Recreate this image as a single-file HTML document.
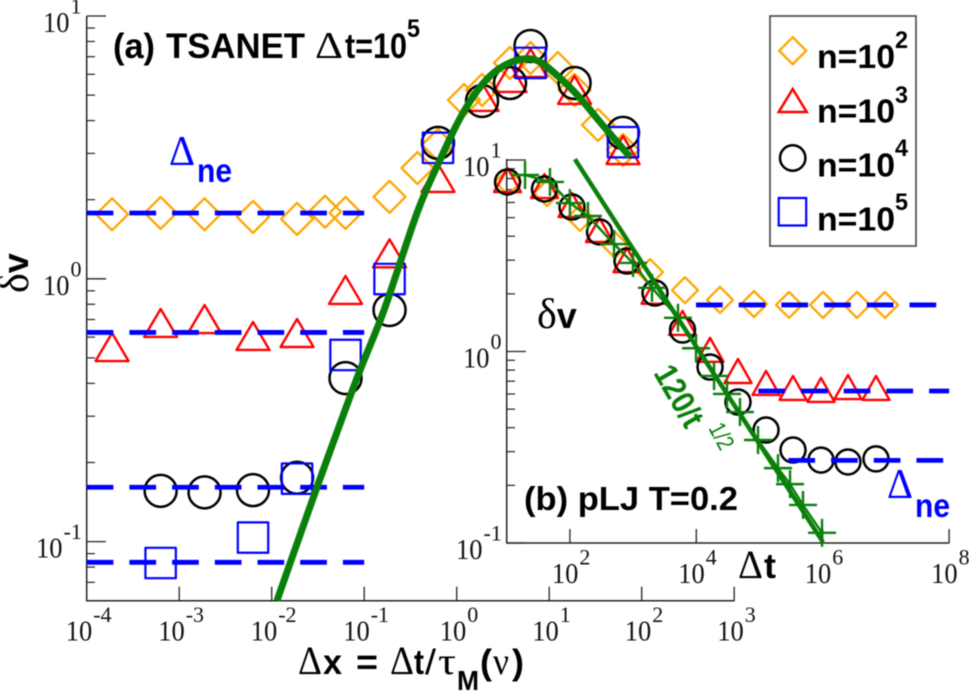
<!DOCTYPE html>
<html>
<head>
<meta charset="utf-8">
<title>delta v chart</title>
<style>
html,body{margin:0;padding:0;background:#fff;}
svg{display:block;filter:blur(0.4px);}
.sans{font-family:"Liberation Sans",sans-serif;}
.bold{font-family:"Liberation Sans",sans-serif;font-weight:bold;}
.serif{font-family:"Liberation Serif",serif;}
</style>
</head>
<body>
<svg id="chart" xmlns="http://www.w3.org/2000/svg" width="969" height="691" viewBox="0 0 969 691">
  <rect x="0" y="0" width="969" height="691" fill="#fff"/>
  <g id="mainAxes"></g>
  <g id="mainMarks"></g>
  <g id="insetAxes"></g>
  <g id="insetMarks"></g>

  <g fill="#000">
    <text class="bold" x="113" y="58" font-size="35" textLength="42" lengthAdjust="spacingAndGlyphs">(a)</text>
    <text class="bold" x="166" y="58" font-size="35" textLength="139" lengthAdjust="spacingAndGlyphs">TSANET</text>
    <text class="serif" x="315" y="58" font-size="38" textLength="28" lengthAdjust="spacingAndGlyphs">Δ</text>
    <text class="bold" x="345" y="58" font-size="35" textLength="62" lengthAdjust="spacingAndGlyphs">t=10</text>
    <text class="bold" x="407" y="37" font-size="25" textLength="13" lengthAdjust="spacingAndGlyphs">5</text>
  </g>
  <g fill="#0000ff">
    <text class="serif" x="169" y="165" font-size="42" textLength="26" lengthAdjust="spacingAndGlyphs">Δ</text>
    <text class="bold" x="197" y="182" font-size="33" textLength="35" lengthAdjust="spacingAndGlyphs">ne</text>
  </g>
  <text transform="translate(28,293) rotate(-90)" fill="#000"><tspan class="serif" font-size="42">δ</tspan><tspan class="bold" font-size="36">v</tspan></text>
  <g fill="#000">
    <text class="serif" x="298" y="674" font-size="40" textLength="24" lengthAdjust="spacingAndGlyphs">Δ</text>
    <text class="bold" x="323" y="674" font-size="35" textLength="19" lengthAdjust="spacingAndGlyphs">x</text>
    <text class="bold" x="356" y="674" font-size="35" textLength="22" lengthAdjust="spacingAndGlyphs">=</text>
    <text class="serif" x="390" y="674" font-size="40" textLength="24" lengthAdjust="spacingAndGlyphs">Δ</text>
    <text class="bold" x="414" y="674" font-size="35" textLength="10" lengthAdjust="spacingAndGlyphs">t</text>
    <text class="sans" x="425" y="674" font-size="35" textLength="11" lengthAdjust="spacingAndGlyphs">/</text>
    <text class="serif" x="438" y="674" font-size="38" textLength="18" lengthAdjust="spacingAndGlyphs">τ</text>
    <text class="bold" x="457" y="690" font-size="28" textLength="22" lengthAdjust="spacingAndGlyphs">M</text>
    <text class="bold" x="480" y="674" font-size="35" textLength="12" lengthAdjust="spacingAndGlyphs">(</text>
    <text class="serif" x="493" y="674" font-size="38" textLength="16" lengthAdjust="spacingAndGlyphs">ν</text>
    <text class="bold" x="512" y="674" font-size="35" textLength="12" lengthAdjust="spacingAndGlyphs">)</text>
  </g>

  <g>
    <rect x="770" y="16" width="146" height="230" fill="#fff" stroke="#444" stroke-width="1.6"/>
    <path d="M792.7 37.2 L806.2 50.7 L792.7 64.2 L779.2 50.7 Z" fill="none" stroke="#ffa500" stroke-width="2.3"/>
    <path d="M792.7 89 L806.7 112 L778.7 112 Z" fill="none" stroke="#ff0000" stroke-width="2.5"/>
    <circle cx="792.7" cy="158" r="12.7" fill="none" stroke="#000" stroke-width="2.5"/>
    <rect x="778.7" y="198" width="27.5" height="27.5" fill="none" stroke="#0000ff" stroke-width="2.2"/>
    <g fill="#000">
      <text class="bold" x="817" y="68" font-size="33" textLength="78" lengthAdjust="spacingAndGlyphs">n=10</text>
      <text class="bold" x="895" y="48" font-size="24" textLength="13" lengthAdjust="spacingAndGlyphs">2</text>
    </g>
    <g fill="#000">
      <text class="bold" x="817" y="122.7" font-size="33" textLength="78" lengthAdjust="spacingAndGlyphs">n=10</text>
      <text class="bold" x="895" y="103" font-size="24" textLength="13" lengthAdjust="spacingAndGlyphs">3</text>
    </g>
    <g fill="#000">
      <text class="bold" x="817" y="176.7" font-size="33" textLength="78" lengthAdjust="spacingAndGlyphs">n=10</text>
      <text class="bold" x="895" y="156" font-size="24" textLength="13" lengthAdjust="spacingAndGlyphs">4</text>
    </g>
    <g fill="#000">
      <text class="bold" x="817" y="230.7" font-size="33" textLength="78" lengthAdjust="spacingAndGlyphs">n=10</text>
      <text class="bold" x="895" y="210" font-size="24" textLength="13" lengthAdjust="spacingAndGlyphs">5</text>
    </g>
  </g>

  <text x="537" y="328" fill="#000"><tspan class="serif" font-size="42">δ</tspan><tspan class="bold" font-size="36">v</tspan></text>
  <g fill="#000">
    <text class="serif" x="738" y="578" font-size="40" textLength="25" lengthAdjust="spacingAndGlyphs">Δ</text>
    <text class="bold" x="764" y="578" font-size="35" textLength="12" lengthAdjust="spacingAndGlyphs">t</text>
  </g>
  <text class="bold" x="524" y="510" font-size="33" fill="#000" textLength="214" lengthAdjust="spacingAndGlyphs">(b) pLJ T=0.2</text>
  <g fill="#0000ff">
    <text class="serif" x="887" y="498" font-size="42" textLength="26" lengthAdjust="spacingAndGlyphs">Δ</text>
    <text class="bold" x="915" y="517" font-size="33" textLength="35" lengthAdjust="spacingAndGlyphs">ne</text>
  </g>
  <g fill="#0a800a">
    <text class="bold" transform="translate(653,373) rotate(60)" font-size="33" textLength="66" lengthAdjust="spacingAndGlyphs">120/t</text>
    <text class="sans" transform="translate(708,428) rotate(62)" font-size="24" textLength="27" lengthAdjust="spacingAndGlyphs">1/2</text>
  </g>
</svg>

<script>
// ---- Panel (a) data ----
const mainDiamondX = [1.88e-4, 6.3e-4, 1.88e-3, 6.28e-3, 1.88e-2, 3.77e-2, 6.28e-2, 0.188, 0.377, 0.628, 1.2, 1.88, 3.77, 6.28, 12.4, 18.8, 33.7, 62.8];
const mainDiamondY = [1.76, 1.78, 1.76, 1.72, 1.69, 1.8, 1.78, 2.05, 2.64, 3.23, 4.79, 5.23, 6.63, 6.92, 6.34, 5.23, 3.85, 3.09];
const mainTriangleX = [1.88e-4, 6.3e-4, 1.88e-3, 6.28e-3, 1.88e-2, 6.28e-2, 0.188, 0.628, 1.88, 3.77, 6.28, 18.8, 62.8];
const mainTriangleY = [0.55, 0.679, 0.703, 0.606, 0.622, 0.907, 1.25, 2.42, 4.92, 5.81, 6.63, 5.23, 3.09];
const mainCircleX = [6.3e-4, 1.88e-3, 6.28e-3, 1.88e-2, 6.28e-2, 0.188, 0.628, 1.88, 3.77, 6.28, 18.8, 62.8];
const mainCircleY = [0.156, 0.154, 0.157, 0.175, 0.419, 0.761, 3.29, 4.75, 5.56, 7.69, 5.56, 3.59];
const mainSquareX = [6.3e-4, 6.28e-3, 1.88e-2, 6.28e-2, 0.188, 0.628, 6.28, 62.8];
const mainSquareY = [0.0829, 0.1036, 0.1736, 0.513, 0.998, 3.15, 6.63, 3.31];
const mainPlateauValues = [1.78, 0.625, 0.161, 0.0834];
const mainPlateauStart = 1e-4;
const mainPlateauEnd = 0.1;
const mainCurveX = [0.0114, 0.0309, 0.0836, 0.164, 0.372, 0.659, 1.09, 1.79, 2.94, 5.21, 7.96, 13.1, 21.5, 35.4, 74.8];
const mainCurveY = [0.0597, 0.161, 0.419, 0.761, 1.78, 2.83, 4.09, 5.37, 6.34, 6.86, 6.68, 5.81, 4.88, 3.95, 2.91];
const mainXTickExponents = [-4, -3, -2, -1, 0, 1, 2, 3];
const mainYTickExponents = [1, 0, -1];
const mainYMinorValues = [9, 8, 7, 6, 5, 4, 3, 2, 0.9, 0.8, 0.7, 0.6, 0.5, 0.4, 0.3, 0.2, 0.09, 0.08, 0.07];

// ---- Panel (b) data ----
const insetDiamondX = [10.5, 43.4, 145, 517, 1850, 6620, 23700, 81800, 293000, 1.01e6, 3.49e6, 9.68e6];
const insetDiamondY = [7.68, 6.72, 4.98, 3.6, 2.6, 2.09, 1.86, 1.77, 1.75, 1.75, 1.75, 1.75];
const insetRunX = [10.3, 39.6, 108, 294, 801, 2220, 6050, 16500, 45700, 127000, 339000, 940000, 2.51e6, 6.97e6];
const insetTriangleY = [7.86, 7.31, 5.82, 4.31, 3.0, 2.05, 1.41, 1.02, 0.791, 0.685, 0.645, 0.63, 0.652, 0.645];
const insetCircleY = [7.68, 7.06, 5.68, 4.21, 2.97, 2.02, 1.295, 0.83, 0.545, 0.389, 0.306, 0.271, 0.265, 0.275];
const insetPlusX = [19.5, 48.4, 100, 193, 499, 996, 1990, 5130, 9890, 19100, 30600, 49100, 94700, 196000, 304000, 488000, 975000];
const insetPlusY = [8.35, 7.68, 5.96, 5.1, 3.64, 2.9, 2.15, 1.5, 1.04, 0.745, 0.6, 0.483, 0.345, 0.246, 0.203, 0.158, 0.113];
const insetPlateauValues = [1.75, 0.622, 0.27];
const insetPlateauStarts = [9890, 95700, 286000];
const insetPlateauEnds = [6.37e7, 1e8, 8.39e7];
const insetFitX = [120, 1.01e6];
const insetFitY = [10.1, 0.101];
const insetXTickExponents = [2, 4, 6, 8];
const insetYTickExponents = [1, 0, -1];
const insetYMinorValues = [9, 8, 7, 6, 5, 4, 3, 2, 0.9, 0.8, 0.7, 0.6, 0.5, 0.4, 0.3, 0.2];

// ---- Axis functions ----
const mainX = v => 86.7 + (Math.log10(v) + 4) * 92.5;
const mainY = v => 16 + (1 - Math.log10(v)) * 262.8;
const insetX = v => 506.7 + (Math.log10(v) - 1) * 63.2;
const insetY = v => 160 + (1 - Math.log10(v)) * 191.5;

const NS = 'http://www.w3.org/2000/svg';
const ORANGE = '#ffa500', RED = '#ff0000', BLACK = '#000000', BLUE = '#0000ff', GREEN = '#0a800a', AXIS = '#222222';

function make(parent, tag, props) {
  const el = document.createElementNS(NS, tag);
  for (const k in props) el.setAttribute(k, props[k]);
  parent.appendChild(el);
  return el;
}
function drawLine(parent, x1, y1, x2, y2, stroke, width, name) {
  const el = make(parent, 'line', {x1: x1, y1: y1, x2: x2, y2: y2, stroke: stroke, 'stroke-width': width});
  
  
  return el;
}
function drawPath(parent, d, stroke, width, name) {
  const el = make(parent, 'path', {d: d, fill: 'none', stroke: stroke, 'stroke-width': width, 'stroke-linejoin': 'round'});
  
  
  return el;
}
function diamond(g, x, y, h, name) {
  return drawPath(g, 'M' + x + ' ' + (y - h) + 'L' + (x + h) + ' ' + y + 'L' + x + ' ' + (y + h) + 'L' + (x - h) + ' ' + y + 'Z', ORANGE, 2.3, name);
}
function triangle(g, x, y, hw, hh, name) {
  return drawPath(g, 'M' + x + ' ' + (y - hh) + 'L' + (x + hw) + ' ' + (y + hh) + 'L' + (x - hw) + ' ' + (y + hh) + 'Z', RED, 2.4, name);
}
function square(g, x, y, h, name) {
  return drawPath(g, 'M' + (x - h) + ' ' + (y - h) + 'H' + (x + h) + 'V' + (y + h) + 'H' + (x - h) + 'Z', BLUE, 2.2, name);
}
function circle(g, x, y, r, name) {
  const el = make(g, 'circle', {cx: x, cy: y, r: r, fill: 'none', stroke: BLACK, 'stroke-width': 2.5});
  
  
  return el;
}
function plus(g, x, y, h, name) {
  return drawPath(g, 'M' + (x - h) + ' ' + y + 'H' + (x + h) + 'M' + x + ' ' + (y - h) + 'V' + (y + h), GREEN, 2.4, name);
}
function polyPath(xs, ys, fx, fy) {
  return xs.map((v, i) => (i ? 'L' : 'M') + fx(v).toFixed(1) + ' ' + fy(ys[i]).toFixed(1)).join('');
}
function smoothPath(xs, ys, fx, fy) {
  const p = xs.map((v, i) => [fx(v), fy(ys[i])]);
  let d = 'M' + p[0][0].toFixed(1) + ' ' + p[0][1].toFixed(1);
  for (let i = 0; i < p.length - 1; i++) {
    const a = p[Math.max(i - 1, 0)], b = p[i], c = p[i + 1], e = p[Math.min(i + 2, p.length - 1)];
    const c1x = b[0] + (c[0] - a[0]) / 6, c1y = b[1] + (c[1] - a[1]) / 6;
    const c2x = c[0] - (e[0] - b[0]) / 6, c2y = c[1] - (e[1] - b[1]) / 6;
    d += 'C' + c1x.toFixed(1) + ' ' + c1y.toFixed(1) + ' ' + c2x.toFixed(1) + ' ' + c2y.toFixed(1) + ' ' + c[0].toFixed(1) + ' ' + c[1].toFixed(1);
  }
  return d;
}
function tickLabel(parent, x, y, exponent, name) {
  const base = make(parent, 'text', {x: x, y: y, fill: '#111', 'font-size': 29, 'font-family': '"Liberation Serif", serif', textLength: 26.5, lengthAdjust: 'spacingAndGlyphs'});
  
  
  base.textContent = '10';
  const sup = make(parent, 'text', {x: x + 27.5, y: y - 18.5, fill: '#111', 'font-size': 22, 'font-family': '"Liberation Serif", serif'});
  
  
  sup.textContent = String(exponent);
}

// ---- Panel (a) axes ----
const ma = document.getElementById('mainAxes');
const mainBottom = 600.7;
drawLine(ma, 86.7, 16, 86.7, mainBottom, AXIS, 1.5, 'main-y-axis-line');
drawLine(ma, 86, mainBottom, 734.5, mainBottom, AXIS, 1.5, 'main-x-axis-line');
mainXTickExponents.forEach(e => {
  const x = mainX(Math.pow(10, e));
  if (e > -4) drawLine(ma, x, mainBottom, x, mainBottom - 14, AXIS, 1.3, 'main-x-tick');
  tickLabel(ma, x - (e < 0 ? 21 : 17), 640.5, e, 'main-x-tick-label');
});
mainYTickExponents.forEach(e => {
  const y = mainY(Math.pow(10, e));
  drawLine(ma, 86.7, y, 106, y, AXIS, 1.3, 'main-y-tick');
  tickLabel(ma, e < 0 ? 36 : 43, y + 16, e, 'main-y-tick-label');
});
mainYMinorValues.forEach(v => {
  const y = mainY(v);
  drawLine(ma, 86.7, y, 95, y, AXIS, 1.2, 'main-y-minor-tick');
});

// ---- Panel (a) marks ----
const mm = document.getElementById('mainMarks');
mainDiamondX.forEach((v, i) => diamond(mm, mainX(v), mainY(mainDiamondY[i]), 16, 'main-point-n100'));
mainTriangleX.forEach((v, i) => triangle(mm, mainX(v), mainY(mainTriangleY[i]), 16.5, 14, 'main-point-n1000'));
mainCircleX.forEach((v, i) => circle(mm, mainX(v), mainY(mainCircleY[i]), 16, 'main-point-n10000'));
mainSquareX.forEach((v, i) => square(mm, mainX(v), mainY(mainSquareY[i]), 15.2, 'main-point-n100000'));
mainPlateauValues.forEach(v => {
  const y = mainY(v);
  const l = drawLine(mm, mainX(mainPlateauStart), y, mainX(mainPlateauEnd), y, BLUE, 4.8, 'main-delta-ne-line');
  l.setAttribute('stroke-dasharray', '26.7 16');
});
drawPath(mm, smoothPath(mainCurveX, mainCurveY, mainX, mainY), GREEN, 7, 'main-fit-curve');

// ---- Panel (b) axes ----
const ia = document.getElementById('insetAxes');
const insetBottom = 543;
drawLine(ia, 506.7, 159, 506.7, insetBottom, AXIS, 1.5, 'inset-y-axis-line');
drawLine(ia, 506, insetBottom, 949.3, insetBottom, AXIS, 1.5, 'inset-x-axis-line');
insetXTickExponents.forEach(e => {
  const x = insetX(Math.pow(10, e));
  drawLine(ia, x, insetBottom, x, insetBottom - 14, AXIS, 1.3, 'inset-x-tick');
  tickLabel(ia, x - 18, 583, e, 'inset-x-tick-label');
});
insetYTickExponents.forEach(e => {
  const y = insetY(Math.pow(10, e));
  drawLine(ia, 506.7, y, 526, y, AXIS, 1.3, 'inset-y-tick');
  tickLabel(ia, e < 0 ? 456 : 463, y + 16, e, 'inset-y-tick-label');
});
insetYMinorValues.forEach(v => {
  const y = insetY(v);
  drawLine(ia, 506.7, y, 515, y, AXIS, 1.2, 'inset-y-minor-tick');
});

// ---- Panel (b) marks ----
const im = document.getElementById('insetMarks');
insetDiamondX.forEach((v, i) => diamond(im, insetX(v), insetY(insetDiamondY[i]), 13, 'inset-point-n100'));
insetRunX.forEach((v, i) => triangle(im, insetX(v), insetY(insetTriangleY[i]), 13.5, 12, 'inset-point-n1000'));
insetRunX.forEach((v, i) => circle(im, insetX(v), insetY(insetCircleY[i]), 12.5, 'inset-point-n10000'));
insetPlateauValues.forEach((v, i) => {
  const y = insetY(v);
  const l = drawLine(im, insetX(insetPlateauStarts[i]), y, insetX(insetPlateauEnds[i]), y, BLUE, 4.8, 'inset-delta-ne-line');
  l.setAttribute('stroke-dasharray', '26.7 16');
});
drawPath(im, polyPath(insetPlusX, insetPlusY, insetX, insetY), GREEN, 2.4, 'inset-green-series-line');
insetPlusX.forEach((v, i) => plus(im, insetX(v), insetY(insetPlusY[i]), 14, 'inset-point-green-plus'));
drawPath(im, polyPath(insetFitX, insetFitY, insetX, insetY), GREEN, 4.5, 'inset-power-law-line');
</script>
</body>
</html>
